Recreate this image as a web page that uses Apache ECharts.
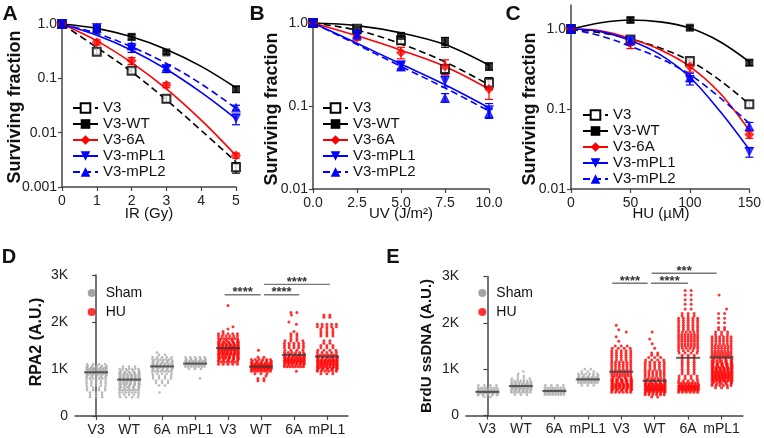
<!DOCTYPE html>
<html>
<head>
<meta charset="utf-8">
<script src="https://cdn.jsdelivr.net/npm/echarts@6/dist/echarts.min.js"></script>
<style>
  html, body { margin: 0; padding: 0; background: #fff; }
  #chart { width: 764px; height: 438px; }
</style>
</head>
<body>
<div id="chart"></div>
<script>
// ===== survival curves (A, B, C) =====
const strains = ['V3', 'V3-WT', 'V3-6A', 'V3-mPL1', 'V3-mPL2'];
const strainColors = ['#000000', '#000000', '#ff0000', '#0000ff', '#0000ff'];
const strainDashed = [true, false, false, false, true];
const strainSymbols = ['emptyRect', 'rect', 'diamond', 'triangle', 'triangle'];
const strainRotate = [0, 0, 0, 180, 0];

// A: IR (Gy)
const irDose = [0, 1, 2, 3, 5];
const irSurv = [
  [1, 0.31, 0.138, 0.042, 0.0023],
  [1, 0.80, 0.58, 0.30, 0.063],
  [1, 0.46, 0.21, 0.075, 0.0038],
  [1, 0.84, 0.35, 0.148, 0.018],
  [1, 0.85, 0.40, 0.155, 0.029]
];
const irErr = [
  [0, 0.03, 0.015, 0.006, 0.0005],
  [0, 0.05, 0.07, 0.02, 0.008],
  [0, 0.05, 0.03, 0.008, 0.0004],
  [0, 0.12, 0.05, 0.02, 0.004],
  [0, 0.06, 0.04, 0.015, 0.003]
];
const irFitX = [0, 1, 2, 3, 4, 5];
const irFit = [
  [1, 0.37, 0.132, 0.040, 0.011, 0.0029],
  [1, 0.83, 0.58, 0.34, 0.166, 0.067],
  [1, 0.49, 0.195, 0.064, 0.017, 0.0038],
  [1, 0.62, 0.33, 0.147, 0.055, 0.018],
  [1, 0.67, 0.38, 0.188, 0.079, 0.028]
];

// B: UV (J/m2)
const uvDose = [0, 2.5, 5, 7.5, 10];
const uvSurv = [
  [1, 0.85, 0.62, 0.28, 0.19],
  [1, 0.83, 0.70, 0.59, 0.30],
  [1, 0.67, 0.44, 0.30, 0.16],
  [1, 0.72, 0.31, 0.20, 0.089],
  [1, 0.72, 0.30, 0.126, 0.082]
];
const uvErr = [
  [0, 0.05, 0.06, 0.03, 0.03],
  [0, 0.07, 0.06, 0.08, 0.03],
  [0, 0.05, 0.07, 0.06, 0.04],
  [0, 0.04, 0.03, 0.03, 0.018],
  [0, 0.04, 0.03, 0.015, 0.01]
];
const uvFitX = [0, 2.5, 5, 7.5, 10];
const uvFit = [
  [1, 0.82, 0.56, 0.34, 0.18],
  [1, 0.93, 0.76, 0.55, 0.31],
  [1, 0.70, 0.47, 0.30, 0.16],
  [1, 0.57, 0.32, 0.18, 0.095],
  [1, 0.55, 0.30, 0.165, 0.087]
];

// C: HU (uM)
const huDose = [0, 50, 100, 150];
const huSurv = [
  [1, 0.74, 0.40, 0.115],
  [1, 1.30, 1.04, 0.38],
  [1, 0.66, 0.34, 0.048],
  [1, 0.71, 0.23, 0.029],
  [1, 0.72, 0.25, 0.061]
];
const huErr = [
  [0, 0.05, 0.03, 0.01],
  [0, 0.09, 0.06, 0.03],
  [0, 0.09, 0.05, 0.005],
  [0, 0.06, 0.03, 0.004],
  [0, 0.06, 0.03, 0.007]
];
const huFitX = [0, 25, 50, 75, 100, 125, 150];
const huFit = [
  [1, 0.90, 0.75, 0.58, 0.40, 0.23, 0.115],
  [1, 1.20, 1.30, 1.23, 1.03, 0.70, 0.39],
  [1, 0.95, 0.76, 0.55, 0.34, 0.16, 0.054],
  [1, 0.93, 0.72, 0.48, 0.25, 0.095, 0.031],
  [1, 0.82, 0.61, 0.43, 0.27, 0.14, 0.066]
];

// ===== dot plots (D, E) =====
const groupLabels = ['V3', 'WT', '6A', 'mPL1', 'V3', 'WT', '6A', 'mPL1'];
const binStep = 50; // counts are per 50 A.U. bin, starting at the group's start value

// D: RPA2, first 4 groups sham, last 4 HU
const rpa2Start = [400, 400, 500, 800, 1100, 750, 950, 900];
const rpa2Counts = [
  [3, 3, 3, 4, 4, 5, 5, 5, 7, 10, 14, 16, 15, 10, 4],
  [4, 5, 7, 8, 9, 10, 11, 12, 12, 12, 11, 9, 7, 3],
  [1, 0, 0, 2, 3, 3, 4, 4, 5, 8, 10, 12, 12, 10, 8, 5, 2, 1],
  [1, 0, 0, 0, 3, 8, 14, 14, 10, 5],
  [5, 8, 10, 11, 12, 13, 14, 14, 12, 11, 9, 8, 6, 5, 1, 1, 1, 0, 0, 0, 0, 0, 0, 0, 0, 1],
  [2, 2, 1, 3, 8, 14, 16, 14, 10, 6, 2, 0, 0, 1],
  [1, 0, 8, 12, 14, 14, 12, 10, 6, 4, 5, 5, 5, 4, 2, 2, 2, 1, 0, 0, 1, 1, 0, 0, 1, 2],
  [3, 6, 10, 13, 14, 14, 12, 10, 8, 5, 4, 3, 3, 2, 2, 0, 3, 3, 3, 3, 5, 5, 0, 0, 2, 2]
];
const rpa2Means = [930, 775, 1055, 1115, 1445, 1050, 1300, 1265];
const rpa2Sig = [[3.9, 4.99, 2580, '****'], [5.09, 6.16, 2580, '****'], [5.09, 7.09, 2800, '****']];

// E: BrdU ssDNA
const brduStart = [400, 450, 450, 650, 500, 400, 500, 600];
const brduCounts = [
  [2, 10, 16, 14, 8, 4],
  [3, 8, 12, 15, 15, 12, 7, 4, 2, 1, 1],
  [8, 15, 14, 8, 4],
  [3, 8, 14, 14, 10, 6, 3, 2],
  [6, 10, 12, 12, 11, 10, 9, 8, 8, 7, 6, 6, 6, 6, 5, 5, 5, 5, 5, 4, 3, 0, 1, 0, 1, 0, 1, 1, 0, 1],
  [2, 6, 12, 16, 16, 14, 11, 9, 7, 6, 6, 6, 5, 5, 5, 5, 4, 3, 2, 2, 0, 1, 0, 1, 0, 1, 0, 0, 1],
  [6, 14, 16, 14, 8, 5, 4, 4, 3, 3, 3, 3, 3, 3, 3, 3, 3, 4, 5, 6, 7, 7, 7, 7, 7, 7, 6, 5, 5, 5, 5, 5, 5, 3, 3, 0, 2, 0, 2, 0, 2, 0, 2, 0, 2],
  [3, 6, 9, 12, 14, 14, 14, 13, 12, 11, 10, 9, 9, 8, 8, 8, 7, 7, 7, 6, 6, 6, 6, 3, 3, 2, 2, 0, 2, 0, 2, 0, 2, 0, 1, 0, 0, 0, 0, 0, 1]
];
const brduMeans = [510, 635, 530, 780, 946, 750, 1245, 1255];
const brduSig = [[3.73, 4.79, 2855, '****'], [4.89, 6.0, 2855, '****'], [4.91, 6.85, 3070, '***']];

// ===== helpers =====
const FONT = '"Liberation Sans", Arial, sans-serif';
const AXIS_COLOR = '#444';

const logLabel = (v) => {
  if (v > 0.5) return '1.0';
  if (v > 0.05) return '0.1';
  if (v > 0.005) return '0.01';
  return '0.001';
};

const renderErrorBar = (params, api) => {
  const x = api.value(0);
  const lo = api.coord([x, api.value(1)]);
  const hi = api.coord([x, api.value(2)]);
  const color = api.visual('color');
  const cap = 4;
  const style = { stroke: color, lineWidth: 1.2 };
  return {
    type: 'group',
    children: [
      { type: 'line', shape: { x1: lo[0], y1: lo[1], x2: hi[0], y2: hi[1] }, style },
      { type: 'line', shape: { x1: lo[0] - cap, y1: lo[1], x2: lo[0] + cap, y2: lo[1] }, style },
      { type: 'line', shape: { x1: hi[0] - cap, y1: hi[1], x2: hi[0] + cap, y2: hi[1] }, style }
    ]
  };
};

const survivalSeries = (axis, doses, surv, err, fitX, fit) => {
  const out = [];
  strains.forEach((name, s) => {
    const color = strainColors[s];
    // fitted curve (also gives the legend its line + symbol)
    out.push({
      name, type: 'line', xAxisIndex: axis, yAxisIndex: axis,
      data: fitX.map((x, i) => [x, fit[s][i]]),
      smooth: 0.35,
      showSymbol: false, symbol: strainSymbols[s], symbolSize: 9, symbolRotate: strainRotate[s],
      itemStyle: { color },
      lineStyle: { color, width: 1.6, type: strainDashed[s] ? [7, 4] : 'solid' },
      silent: true, z: 2
    });
    // error bars
    out.push({
      name, type: 'custom', xAxisIndex: axis, yAxisIndex: axis,
      itemStyle: { color },
      data: doses.map((d, i) => [d, Math.max(surv[s][i] - err[s][i], 1e-4), surv[s][i] + err[s][i]]),
      renderItem: renderErrorBar, clip: false, silent: true, z: 3
    });
    // measured points
    out.push({
      name, type: 'scatter', xAxisIndex: axis, yAxisIndex: axis,
      data: doses.map((d, i) => [d, surv[s][i]]),
      symbol: strainSymbols[s], symbolRotate: strainRotate[s],
      symbolSize: strainSymbols[s] === 'diamond' || strainSymbols[s] === 'triangle' ? 10 : 8,
      itemStyle: { color },
      clip: false, silent: true, z: 4
    });
  });
  return out;
};

// lays out the binned counts as rows of dots (horizontal spread only)
const dotPoints = (starts, counts, pxPerUnit) => {
  const pts = [];
  counts.forEach((col, g) => {
    col.forEach((n, b) => {
      if (!n) return;
      const v = starts[g] + b * binStep;
      const rows = Math.ceil(n / 8);
      let left = n;
      for (let r = 0; r < rows; r++) {
        const k = Math.ceil(left / (rows - r));
        left -= k;
        const yv = v + (r - (rows - 1) / 2) * binStep / rows;
        const gap = k > 1 ? Math.min(6, 19 / (k - 1)) : 0;
        const shift = k === 1 ? (((b * 7 + g * 3) % 5) - 2) * 2.5 : (r % 2 ? 1 : 0);
        for (let i = 0; i < k; i++) {
          const px = (i - (k - 1) / 2) * gap + shift;
          pts.push([g, g + px / pxPerUnit, yv]);
        }
      }
    });
  });
  return pts;
};

const dotPlotSeries = (axis, starts, counts, means, sig, pxPerUnit) => {
  const pts = dotPoints(starts, counts, pxPerUnit);
  return [
    {
      name: 'Sham', type: 'scatter', xAxisIndex: axis, yAxisIndex: axis,
      data: pts.filter(p => p[0] < 4).map(p => [p[1], p[2]]),
      symbol: 'circle', symbolSize: 2.6, itemStyle: { color: '#a9a9a9' }, silent: true, z: 2
    },
    {
      name: 'HU', type: 'scatter', xAxisIndex: axis, yAxisIndex: axis,
      data: pts.filter(p => p[0] >= 4).map(p => [p[1], p[2]]),
      symbol: 'circle', symbolSize: 3, itemStyle: { color: '#ff0000' }, silent: true, z: 2
    },
    {
      name: 'mean', type: 'scatter', xAxisIndex: axis, yAxisIndex: axis,
      data: means.map((m, i) => [i, m]),
      symbol: 'rect', symbolSize: [24, 2], itemStyle: { color: '#3a3a3a' }, silent: true, z: 5
    },
    {
      name: 'sig', type: 'custom', xAxisIndex: axis, yAxisIndex: axis,
      data: sig.map(s => [s[0], s[2], s[1]]),
      clip: false, silent: true, z: 6,
      renderItem: (params, api) => {
        const a = api.coord([api.value(0), api.value(1)]);
        const b = api.coord([api.value(2), api.value(1)]);
        return {
          type: 'group',
          children: [
            { type: 'line', shape: { x1: a[0], y1: a[1], x2: b[0], y2: b[1] }, style: { stroke: '#777', lineWidth: 1.4 } },
            {
              type: 'text', x: (a[0] + b[0]) / 2, y: a[1] - 2,
              style: { text: sig[params.dataIndex][3], align: 'center', verticalAlign: 'middle', fontSize: 13, fontWeight: 'bold', fill: '#333', fontFamily: FONT }
            }
          ]
        };
      }
    }
  ];
};

const logYAxis = (index, min, max, ticks) => ({
  type: 'log', logBase: 10, gridIndex: index, min, max,
  axisLine: { show: true, lineStyle: { color: AXIS_COLOR, width: 1.5 } },
  axisTick: { show: true, length: 4, lineStyle: { color: AXIS_COLOR, width: 1.2 }, customValues: ticks },
  axisLabel: { customValues: ticks, formatter: logLabel, fontSize: 14, color: '#222', margin: 5, fontFamily: FONT },
  minorTick: { show: false }, splitLine: { show: false }
});

const doseXAxis = (index, max, interval, fmt) => ({
  type: 'value', gridIndex: index, min: 0, max, interval,
  axisLine: { show: true, onZero: false, lineStyle: { color: AXIS_COLOR, width: 1.5 } },
  axisTick: { show: true, length: 4, lineStyle: { color: AXIS_COLOR, width: 1.2 } },
  axisLabel: { fontSize: 14, color: '#222', margin: 7, fontFamily: FONT, formatter: fmt },
  splitLine: { show: false }
});

const groupXAxis = (index) => ({
  type: 'value', gridIndex: index, min: -0.64, max: 7.64,
  axisLine: { show: true, onZero: false, lineStyle: { color: AXIS_COLOR, width: 1.5 } },
  axisTick: { show: true, length: 4, lineStyle: { color: AXIS_COLOR, width: 1.2 }, customValues: [0, 1, 2, 3, 4, 5, 6, 7] },
  axisLabel: {
    customValues: [0, 1, 2, 3, 4, 5, 6, 7], fontSize: 14, color: '#222', margin: 7, fontFamily: FONT,
    formatter: (v) => groupLabels[Math.round(v)]
  },
  splitLine: { show: false }
});

const countYAxis = (index) => ({
  type: 'value', gridIndex: index, min: 0, max: 3000, interval: 1000,
  axisLine: { show: true, lineStyle: { color: AXIS_COLOR, width: 1.5 } },
  axisTick: { show: true, length: 4, lineStyle: { color: AXIS_COLOR, width: 1.2 } },
  axisLabel: { fontSize: 14, color: '#222', margin: 7, fontFamily: FONT, formatter: (v) => (v === 0 ? '0' : v / 1000 + 'K') },
  splitLine: { show: false }
});

const strainLegend = (left, top) => ({
  orient: 'vertical', left, top, padding: 0,
  itemWidth: 25, itemHeight: 12, itemGap: 1,
  textStyle: { fontSize: 15, lineHeight: 15, color: '#111', fontFamily: FONT },
  selectedMode: false, data: strains
});

const groupLegend = (left, top) => ({
  orient: 'vertical', left, top, padding: 0,
  itemWidth: 18, itemHeight: 8, itemGap: 5, symbolKeepAspect: true,
  textStyle: { fontSize: 14, lineHeight: 14, color: '#111', fontFamily: FONT },
  selectedMode: false,
  data: [
    { name: 'Sham', icon: 'circle', itemStyle: { color: '#8c8c8c' } },
    { name: 'HU', icon: 'circle', itemStyle: { color: '#ff0000' } }
  ]
});

const text = (str, x, y, size, bold, rotate) => ({
  type: 'text', x, y, rotation: rotate ? Math.PI / 2 : 0,
  style: { text: str, align: 'center', verticalAlign: 'middle', fontSize: size, fontWeight: bold ? 'bold' : 'normal', fill: '#111', fontFamily: FONT }
});

// ===== chart =====
const chart = echarts.init(document.getElementById('chart'));
chart.setOption({
  animation: false,
  backgroundColor: '#fff',
  grid: [
    { left: 62, top: 24, width: 174, height: 163 },
    { left: 313, top: 23, width: 176, height: 166 },
    { left: 571, top: 5, width: 180, height: 184 },
    { left: 75, top: 275, width: 273, height: 141 },
    { left: 466, top: 276.5, width: 277, height: 139 }
  ],
  xAxis: [
    doseXAxis(0, 5, 1),
    doseXAxis(1, 10, 2.5, (v) => v.toFixed(1)),
    doseXAxis(2, 150, 50),
    groupXAxis(3),
    groupXAxis(4)
  ],
  yAxis: [
    logYAxis(0, 0.001, 1, [0.001, 0.01, 0.1, 1]),
    logYAxis(1, 0.01, 1, [0.01, 0.1, 1]),
    logYAxis(2, 0.01, 2, [0.01, 0.1, 1]),
    countYAxis(3),
    countYAxis(4)
  ],
  legend: [
    strainLegend(72, 100.5),
    strainLegend(322, 100.5),
    strainLegend(582, 107.5),
    groupLegend(87.7, 286),
    groupLegend(478.3, 286)
  ],
  graphic: [
    text('A', 10, 14.5, 21, true),
    text('B', 257, 14.5, 21, true),
    text('C', 513, 14.5, 21, true),
    text('D', 9, 257, 20, true),
    text('E', 393, 257, 20, true),
    text('Surviving fraction', 15, 107, 18, true, true),
    text('Surviving fraction', 272, 109, 18, true, true),
    text('Surviving fraction', 530, 109, 18, true, true),
    text('IR (Gy)', 149, 214, 15),
    text('UV (J/m²)', 401, 214, 15),
    text('HU (µM)', 661, 214, 15),
    text('RPA2 (A.U.)', 37, 342, 16, true, true),
    text('BrdU ssDNA (A.U.)', 427, 346, 15, true, true)
  ],
  series: [
    ...survivalSeries(0, irDose, irSurv, irErr, irFitX, irFit),
    ...survivalSeries(1, uvDose, uvSurv, uvErr, uvFitX, uvFit),
    ...survivalSeries(2, huDose, huSurv, huErr, huFitX, huFit),
    ...dotPlotSeries(3, rpa2Start, rpa2Counts, rpa2Means, rpa2Sig, 273 / 8.28),
    ...dotPlotSeries(4, brduStart, brduCounts, brduMeans, brduSig, 277 / 8.28)
  ]
});
</script>
</body>
</html>
